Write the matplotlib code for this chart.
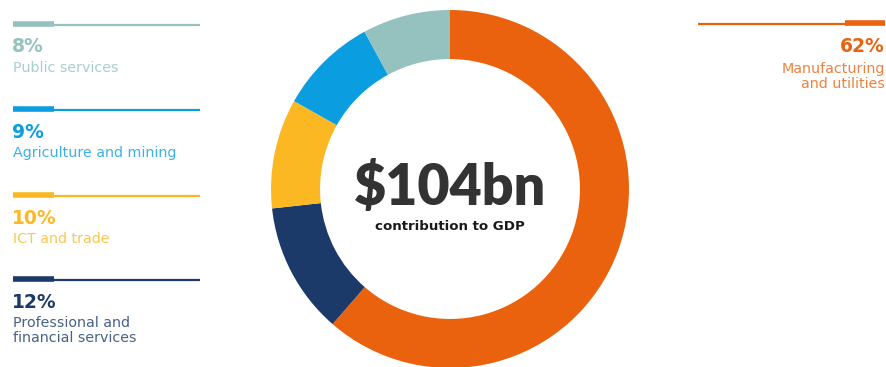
import matplotlib
matplotlib.use("Agg")
import matplotlib.pyplot as plt

# GDP contribution by sector (percent), clockwise from 12 o'clock
sectors = ["Manufacturing\nand utilities", "Professional and\nfinancial services",
           "ICT and trade", "Agriculture and mining", "Public services"]
shares = [62, 12, 10, 9, 8]
colors = ["#EA620D", "#1B3A69", "#FBB823", "#0A9DE0", "#95C2BF"]
total_label = "$104bn"
sub_label = "contribution to GDP"

W, H = 887, 367
fig = plt.figure(figsize=(W / 100, H / 100), dpi=100)

# donut
cx, cy, r = 450, 189, 179
ax = fig.add_axes([(cx - r) / W, (H - cy - r) / H, 2 * r / W, 2 * r / H])
ax.pie(shares, colors=colors, startangle=90, counterclock=False, radius=1,
       wedgeprops=dict(width=0.274, linewidth=0))
ax.set_aspect("equal")
ax.set_xlim(-1, 1)
ax.set_ylim(-1, 1)
ax.axis("off")

ax.text(0, 0.01, total_label, ha="center", va="center", fontsize=40,
        fontweight="heavy", fontstyle="normal", color="#333333",
        family=["Lato", "DejaVu Sans"])
ax.text(0, -0.21, sub_label, ha="center", va="center", fontsize=9.6,
        fontweight="bold", color="#1a1a1a", family=["DejaVu Sans"])

# overlay in pixel coordinates for the legend blocks
ov = fig.add_axes([0, 0, 1, 1], zorder=-1)
ov.set_xlim(0, W)
ov.set_ylim(H, 0)
ov.axis("off")

font = ["DejaVu Sans"]

# left column: small sectors, top to bottom
left_items = [4, 3, 2, 1]
line_y = [25, 110, 196, 280]
for i, y in zip(left_items, line_y):
    c = colors[i]
    ov.plot([13, 200], [y, y], color=c, lw=1.6, solid_capstyle="butt")
    ov.plot([13, 54], [y - 1, y - 1], color=c, lw=4, solid_capstyle="butt")
    ov.text(12, y + 22, f"{shares[i]}%", ha="left", va="center", fontsize=13.5,
            fontweight="bold", color=c, family=font)
    ov.text(13, y + 36, sectors[i], ha="left", va="top", fontsize=10.3,
            color=c, alpha=0.8, family=font, linespacing=1.1)

# right column: largest sector
c = colors[0]
ov.plot([698, 885], [24, 24], color=c, lw=1.6, solid_capstyle="butt")
ov.plot([845, 885], [23, 23], color=c, lw=4, solid_capstyle="butt")
ov.text(885, 47, f"{shares[0]}%", ha="right", va="center", fontsize=13.5,
        fontweight="bold", color=c, family=font)
ov.text(885, 62, sectors[0], ha="right", va="top", fontsize=10.3,
        color=c, alpha=0.8, family=font, linespacing=1.1, multialignment="right")

fig.savefig("out.png", dpi=100, facecolor="white")
